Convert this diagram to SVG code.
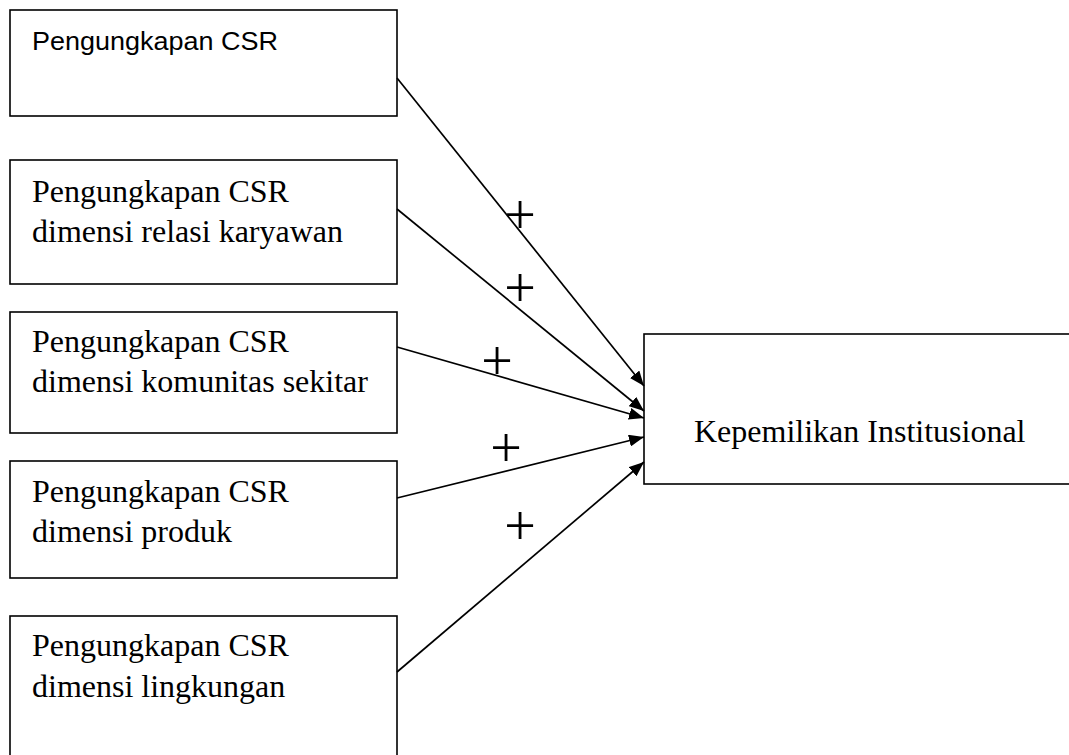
<svg xmlns="http://www.w3.org/2000/svg" width="1069" height="755" viewBox="0 0 1069 755">
<style>
.box{fill:#fff;stroke:#000;stroke-width:1.6}
.serif{font-family:"Liberation Serif","Times New Roman",serif;font-size:32px;fill:#000}
.sans{font-family:"Liberation Sans",Arial,sans-serif;font-size:25px;fill:#000}
.plus{font-family:"Liberation Serif","Times New Roman",serif;font-size:56px;fill:#000;text-anchor:middle}
.edge{stroke:#000;stroke-width:1.7;fill:none;marker-end:url(#arr)}
</style>
<defs>
<marker id="arr" markerUnits="userSpaceOnUse" markerWidth="16" markerHeight="12" refX="15" refY="6" orient="auto">
<path d="M0,0 L15,6 L0,12 Z" fill="#000"/>
</marker>
</defs>
<rect width="1069" height="755" fill="#fff"/>
<g id="n1"><rect class="box" x="10" y="10" width="387" height="106"/><text class="sans" x="32" y="50" textLength="246" lengthAdjust="spacingAndGlyphs">Pengungkapan CSR</text></g>
<g id="n2"><rect class="box" x="10" y="160" width="387" height="124"/><text class="serif" x="32" y="202">Pengungkapan CSR</text><text class="serif" x="32" y="242">dimensi relasi karyawan</text></g>
<g id="n3"><rect class="box" x="10" y="312" width="387" height="121"/><text class="serif" x="32" y="352">Pengungkapan CSR</text><text class="serif" x="32" y="392">dimensi komunitas sekitar</text></g>
<g id="n4"><rect class="box" x="10" y="461" width="387" height="117"/><text class="serif" x="32" y="502">Pengungkapan CSR</text><text class="serif" x="32" y="542">dimensi produk</text></g>
<g id="n5"><rect class="box" x="10" y="616" width="387" height="150"/><text class="serif" x="32" y="656">Pengungkapan CSR</text><text class="serif" x="32" y="697">dimensi lingkungan</text></g>
<g id="target"><rect class="box" x="644" y="334" width="440" height="150"/><text class="serif" x="694" y="442">Kepemilikan Institusional</text></g>
<g id="connectors">
<line class="edge" x1="397" y1="78" x2="644" y2="386"/>
<line class="edge" x1="397" y1="209" x2="644" y2="411"/>
<line class="edge" x1="397" y1="347" x2="644" y2="418"/>
<line class="edge" x1="397" y1="498" x2="644" y2="437"/>
<line class="edge" x1="397" y1="672" x2="644" y2="462"/>
</g>
<g id="labels">
<text class="plus" x="520" y="234">+</text>
<text class="plus" x="520" y="307">+</text>
<text class="plus" x="497" y="380">+</text>
<text class="plus" x="506" y="467">+</text>
<text class="plus" x="520" y="545">+</text>
</g>
</svg>
